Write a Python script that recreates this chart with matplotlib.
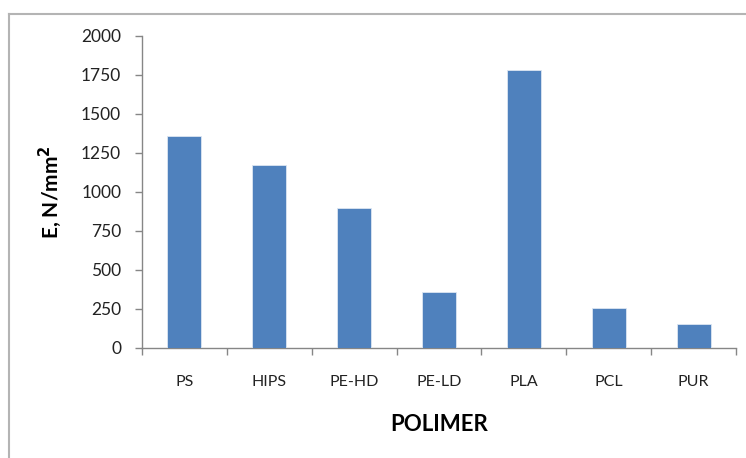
import matplotlib
matplotlib.use("Agg")
import matplotlib.pyplot as plt
from matplotlib.lines import Line2D
import numpy as np

categories = ["PS", "HIPS", "PE-HD", "PE-LD", "PLA", "PCL", "PUR"]
values = [1360, 1170, 898, 354, 1782, 254, 154]
yticks = [0, 250, 500, 750, 1000, 1250, 1500, 1750, 2000]

plt.rcParams['font.family'] = ['Lato', 'DejaVu Sans']

fig = plt.figure(figsize=(7.46, 4.58), dpi=100)
ax = fig.add_axes([142/746, 1-347.7/458, (736-142)/746, (347.7-35.7)/458])

x = np.arange(len(categories))
ax.bar(x, values, width=0.4, color="#4f81bd", edgecolor="#dce6f2", linewidth=0.6, zorder=3)

ax.set_xlim(-0.5, len(categories) - 0.5)
ax.set_ylim(0, 2000)
ax.set_yticks(yticks)
ax.set_yticklabels([str(v) for v in yticks], fontsize=12.5, color="#222222")
ax.set_xticks(x)
ax.set_xticklabels(categories, fontsize=11.5, color="#222222")
ax.set_xticks(np.arange(len(categories) + 1) - 0.5, minor=True)
ax.tick_params(axis='x', which='major', length=0, pad=20)
ax.tick_params(axis='x', which='minor', length=5, color="#868686", width=1)
ax.tick_params(axis='y', length=5, color="#868686", width=1, pad=10)

for s in ["top", "right"]:
    ax.spines[s].set_visible(False)
for s in ["left", "bottom"]:
    ax.spines[s].set_color("#868686")
    ax.spines[s].set_linewidth(1)

ax.set_ylabel("E, N/mm$^\\mathbf{2}$", fontsize=15, fontweight="bold", labelpad=12)
ax.set_xlabel("POLIMER", fontsize=16, fontweight="bold", labelpad=18)

# outer chart border (partly visible)
fig.add_artist(Line2D([8.5/746, 8.5/746], [0, 1-14/458], transform=fig.transFigure, color="#b4b4b4", linewidth=1.5))
fig.add_artist(Line2D([8.5/746, 1], [1-14/458, 1-14/458], transform=fig.transFigure, color="#b4b4b4", linewidth=1.5))

fig.savefig("out.png", dpi=100)
